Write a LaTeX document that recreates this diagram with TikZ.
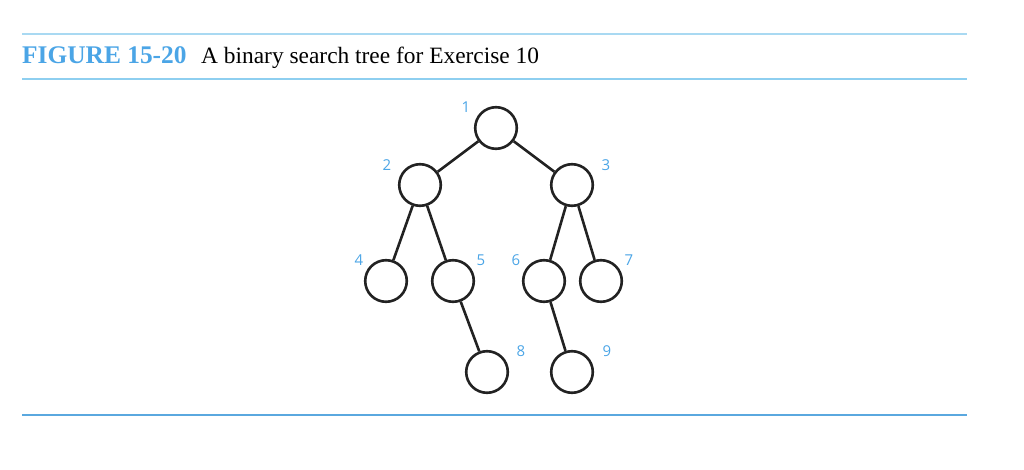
\documentclass[tikz,border=0pt]{standalone}
\usepackage{fontspec}
\setmainfont{Liberation Serif}
\newfontfamily\labfont{Open Sans}
\definecolor{figblue}{HTML}{4BA5E6}
\definecolor{ruleA}{HTML}{A9D9F2}
\definecolor{ruleB}{HTML}{8ECFF0}
\definecolor{ruleC}{HTML}{5AA8DF}
\definecolor{edgecol}{HTML}{222222}
\begin{document}
\begin{tikzpicture}[x=1pt,y=-1pt,
  treenode/.style={circle,draw=edgecol,line width=2.6pt,minimum size=41.6pt,inner sep=0pt},
  edge/.style={draw=edgecol,line width=2.6pt},
  numlab/.style={font=\labfont\fontsize{15}{18}\selectfont,text=figblue,inner sep=0pt},
  rule/.style={line width=1.6pt}]
\useasboundingbox (0,0) rectangle (1024,470);
% rules
\coordinate (r1a) at (22,34); \coordinate (r1b) at (967,34);
\coordinate (r2a) at (22,79); \coordinate (r2b) at (967,79);
\coordinate (r3a) at (22,415); \coordinate (r3b) at (967,415);
\draw[rule,ruleA] (r1a) -- (r1b);
\draw[rule,ruleB] (r2a) -- (r2b);
\draw[rule,ruleC] (r3a) -- (r3b);
% title
\node[anchor=base west,inner sep=0pt,text=figblue,font=\bfseries\fontsize{25.4}{30}\selectfont] (fig) at (22,64) {FIGURE 15-20};
\node[anchor=base west,inner sep=0pt,font=\fontsize{23.4}{28}\selectfont] (cap) at (201,64) {A binary search tree for Exercise 10};
% tree nodes
\node[treenode] (n1) at (496,128) {};
\node[treenode] (n2) at (420,185) {};
\node[treenode] (n3) at (572,185) {};
\node[treenode] (n4) at (386,281) {};
\node[treenode] (n5) at (453,281) {};
\node[treenode] (n6) at (544,281) {};
\node[treenode] (n7) at (601,281) {};
\node[treenode] (n8) at (487,372) {};
\node[treenode] (n9) at (572,372) {};
% edges
\draw[edge] (n1) -- (n2);
\draw[edge] (n1) -- (n3);
\draw[edge] (n2) -- (n4);
\draw[edge] (n2) -- (n5);
\draw[edge] (n3) -- (n6);
\draw[edge] (n3) -- (n7);
\draw[edge] (n5) -- (n8);
\draw[edge] (n6) -- (n9);
% labels
\node[numlab] (l1) at (466,107) {1};
\node[numlab] (l2) at (387,165) {2};
\node[numlab] (l3) at (606,165) {3};
\node[numlab] (l4) at (359,260) {4};
\node[numlab] (l5) at (481,260) {5};
\node[numlab] (l6) at (516,260) {6};
\node[numlab] (l7) at (629,260) {7};
\node[numlab] (l8) at (521,351) {8};
\node[numlab] (l9) at (607,351) {9};
\end{tikzpicture}
\end{document}
